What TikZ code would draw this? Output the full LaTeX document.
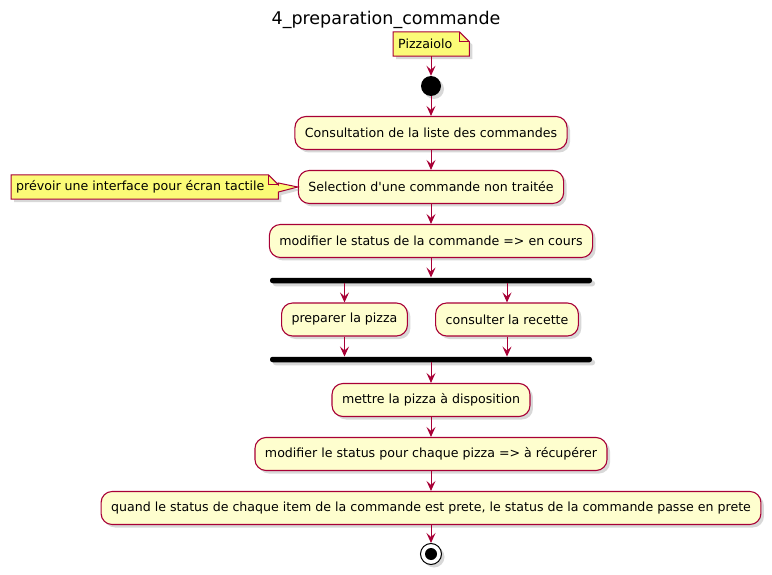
\documentclass[tikz,border=0pt]{standalone}
\usepackage{fontspec}
\setmainfont{DejaVu Sans}
\usetikzlibrary{calc,arrows.meta,shadows,positioning}
\definecolor{bordeau}{HTML}{A80036}
\definecolor{fondactivite}{HTML}{FEFECE}
\definecolor{fondnote}{HTML}{FBFB77}

\begin{document}
\begin{tikzpicture}[x=1pt,y=-1pt]
%
% Styles
%
\tikzset{every node/.style={font=\fontsize{12.6}{15}\selectfont}};%
\tikzset{fleche/.style={draw=bordeau, line width=1pt, -{Stealth[length=10pt,width=9pt,inset=4pt]}}};%
\tikzset{ombre/.style={drop shadow={shadow xshift=3pt, shadow yshift=-3pt, opacity=0.3, fill=gray}}};%
\tikzset{activite/.style={draw=bordeau, line width=1.1pt, fill=fondactivite, rounded corners=11pt, minimum height=33pt, inner xsep=10pt, ombre}};%
\tikzset{barre/.style={fill=black, rounded corners=2.5pt, minimum width=322pt, minimum height=5.5pt, inner sep=0pt, ombre}};%
\tikzset{cadre note/.style={inner sep=0pt, minimum height=24pt, anchor=west}};%
\tikzset{texte note/.style={inner xsep=5pt, inner ysep=0pt, anchor=west}};%
\tikzset{note/.style={draw=bordeau, line width=1pt, fill=fondnote, ombre}};%

%
% Macros
%
\pgfmathsetmacro{\xaxe}{431};%
\pgfmathsetmacro{\pli}{10};%

\path[use as bounding box, fill=white] (0,0) rectangle (772,575);%

% Title
\node[font=\fontsize{17.5}{20}\selectfont] (titre) at (386,20) {4\_preparation\_commande};%

% Note on top of the start point
\node[cadre note, minimum width=76pt] (pizzaiolo) at (393,44) {};%
\draw[note] (pizzaiolo.north west) -- ($(pizzaiolo.north east)+(-\pli,0)$) -- ($(pizzaiolo.north east)+(0,\pli)$)
  -- (pizzaiolo.south east) -- (pizzaiolo.south west) -- cycle;%
\draw[bordeau, line width=1pt] ($(pizzaiolo.north east)+(-\pli,0)$) -- ($(pizzaiolo.north east)+(-\pli,\pli)$) -- ($(pizzaiolo.north east)+(0,\pli)$);%
\node[texte note] (pizzaiolo texte) at (pizzaiolo.west) {Pizzaiolo};%

% Start point
\node[circle, fill=black, minimum size=20pt, inner sep=0pt, ombre] (debut) at (\xaxe,86) {};%

% Activities
\node[activite] (consultation) at (\xaxe,133) {Consultation de la liste des commandes};%
\node[activite] (selection) at (\xaxe,187) {Selection d\textquotesingle une commande non traitée};%
\node[activite] (encours) at (\xaxe,241) {modifier le status de la commande => en cours};%
\node[barre] (fourche) at (\xaxe,280.5) {};%
\node[activite] (pizza) at (344.5,319.5) {preparer la pizza};%
\node[activite] (recette) at (507,319.5) {consulter la recette};%
\node[barre] (jonction) at (\xaxe,359.5) {};%
\node[activite] (disposition) at (\xaxe,400) {mettre la pizza à disposition};%
\node[activite] (recuperer) at (\xaxe,454) {modifier le status pour chaque pizza => à récupérer};%
\node[activite] (prete) at (\xaxe,508) {quand le status de chaque item de la commande est prete, le status de la commande passe en prete};%

% End point
\node[circle, draw=black, line width=1pt, fill=white, minimum size=21pt, inner sep=0pt, ombre] (fin) at (\xaxe,554) {};%
\fill[black] (fin.center) circle[radius=6pt];%

% Note on the left with its pointer
\node[cadre note, minimum width=267pt] (tactile) at (11,187) {};%
\draw[note] (tactile.north west) -- ($(tactile.north east)+(-\pli,0)$) -- ($(tactile.north east)+(0,\pli)$)
  -- ($(tactile.east)+(0,-4)$) -- (selection.west) -- ($(tactile.east)+(0,5)$)
  -- (tactile.south east) -- (tactile.south west) -- cycle;%
\draw[bordeau, line width=1pt] ($(tactile.north east)+(-\pli,0)$) -- ($(tactile.north east)+(-\pli,\pli)$) -- ($(tactile.north east)+(0,\pli)$);%
\node[texte note] (tactile texte) at (tactile.west) {prévoir une interface pour écran tactile};%

% Connectors
\draw[fleche] (pizzaiolo.south -| debut) -- (debut);%
\draw[fleche] (debut) -- (consultation);%
\draw[fleche] (consultation) -- (selection);%
\draw[fleche] (selection) -- (encours);%
\draw[fleche] (encours) -- (fourche);%
\draw[fleche] (fourche.south -| pizza) -- (pizza);%
\draw[fleche] (fourche.south -| recette) -- (recette);%
\draw[fleche] (pizza) -- (pizza |- jonction.north);%
\draw[fleche] (recette) -- (recette |- jonction.north);%
\draw[fleche] (jonction) -- (disposition);%
\draw[fleche] (disposition) -- (recuperer);%
\draw[fleche] (recuperer) -- (prete);%
\draw[fleche] (prete) -- (fin);%
\end{tikzpicture}
\end{document}
